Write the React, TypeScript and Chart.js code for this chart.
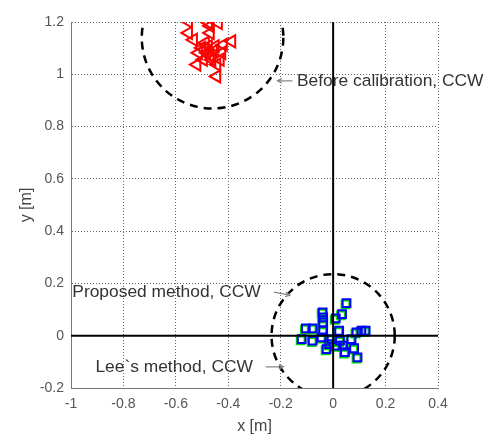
import React, { useEffect, useRef } from "react";
import { Chart, registerables } from "chart.js";

Chart.register(...registerables);

const xTicks = [-1, -0.8, -0.6, -0.4, -0.2, 0, 0.2, 0.4];
const yTicks = [-0.2, 0, 0.2, 0.4, 0.6, 0.8, 1, 1.2];

const beforeX = [-0.552, -0.476, -0.438, -0.469, -0.552, -0.469, -0.533, -0.488, -0.387, -0.501, -0.476, -0.45, -0.419, -0.514, -0.482, -0.457, -0.425, -0.495, -0.463, -0.431, -0.52, -0.444, -0.444, -0.47, -0.49];
const beforeY = [1.202, 1.198, 1.196, 1.185, 1.158, 1.158, 1.132, 1.12, 1.126, 1.101, 1.107, 1.107, 1.113, 1.082, 1.082, 1.088, 1.082, 1.056, 1.056, 1.056, 1.037, 1.037, 0.992, 1.07, 1.095];

const proposedX = [0.051, 0.034, -0.04, -0.038, -0.038, 0.01, -0.104, -0.078, -0.038, 0.023, -0.12, -0.078, -0.044, -0.006, 0.026, 0.07, 0.089, 0.108, 0.124, -0.025, 0.038, 0.045, 0.08, 0.093, 0.013, -0.015];
const proposedY = [0.125, 0.083, 0.089, 0.07, 0.051, 0.066, 0.028, 0.028, 0.019, 0.019, -0.013, -0.019, -0.006, -0.013, -0.019, -0.013, 0.013, 0.019, 0.019, -0.051, -0.038, -0.063, -0.048, -0.083, -0.038, -0.032];

const leeX = [0.047, 0.03, -0.044, -0.042, -0.042, 0.006, -0.108, -0.082, -0.042, 0.019, -0.124, -0.082, -0.048, -0.01, 0.022, 0.066, 0.085, 0.104, 0.12, -0.029, 0.034, 0.041, 0.076, 0.089, 0.009, -0.019];
const leeY = [0.12, 0.078, 0.084, 0.065, 0.046, 0.061, 0.023, 0.023, 0.014, 0.014, -0.018, -0.024, -0.011, -0.018, -0.024, -0.018, 0.008, 0.014, 0.014, -0.056, -0.043, -0.068, -0.053, -0.088, -0.043, -0.037];

const circleCenters = [[-0.46, 1.14], [0, 0]];
const circleRadii = [0.27, 0.235];

const noteTexts = ["Before calibration, CCW", "Proposed method, CCW", "Lee`s method, CCW"];
const noteTextPos = [[-0.138, 0.975], [-0.995, 0.167], [-0.907, -0.119]];
const noteArrowFrom = [[-0.155, 0.975], [-0.226, 0.167], [-0.257, -0.119]];
const noteArrowTo = [[-0.212, 0.975], [-0.165, 0.155], [-0.19, -0.119]];

const zip = (xs: number[], ys: number[]) => xs.map((x, i) => ({ x, y: ys[i] }));

const fmt = (v: number) => String(Number(v.toFixed(1)));

const overlayPlugin = {
  id: "overlay",
  beforeDatasetsDraw(chart: any) {
    const { ctx, chartArea, scales } = chart;
    const xs = scales.x, ys = scales.y;
    ctx.save();
    ctx.beginPath();
    ctx.rect(chartArea.left, chartArea.top, chartArea.right - chartArea.left, chartArea.bottom - chartArea.top);
    ctx.clip();
    ctx.strokeStyle = "#000";
    ctx.lineWidth = 2.5;
    ctx.setLineDash([8, 6]);
    circleCenters.forEach((c, i) => {
      const cx = xs.getPixelForValue(c[0]);
      const cy = ys.getPixelForValue(c[1]);
      const r = Math.abs(xs.getPixelForValue(c[0] + circleRadii[i]) - cx);
      ctx.beginPath();
      ctx.arc(cx, cy, r, 0, Math.PI * 2);
      ctx.stroke();
    });
    ctx.restore();
  },
  afterDatasetsDraw(chart: any) {
    const { ctx, scales } = chart;
    const xs = scales.x, ys = scales.y;
    ctx.save();
    ctx.font = '17.4px "Liberation Sans", Arial, sans-serif';
    ctx.fillStyle = "#333";
    ctx.textBaseline = "middle";
    ctx.textAlign = "left";
    noteTexts.forEach((t, i) => {
      ctx.fillText(t, xs.getPixelForValue(noteTextPos[i][0]), ys.getPixelForValue(noteTextPos[i][1]));
      const x1 = xs.getPixelForValue(noteArrowFrom[i][0]);
      const y1 = ys.getPixelForValue(noteArrowFrom[i][1]);
      const x2 = xs.getPixelForValue(noteArrowTo[i][0]);
      const y2 = ys.getPixelForValue(noteArrowTo[i][1]);
      ctx.strokeStyle = "#888";
      ctx.lineWidth = 1.3;
      ctx.setLineDash([]);
      ctx.beginPath();
      ctx.moveTo(x1, y1);
      ctx.lineTo(x2, y2);
      const a = Math.atan2(y2 - y1, x2 - x1);
      ctx.moveTo(x2 - 5 * Math.cos(a - 0.5), y2 - 5 * Math.sin(a - 0.5));
      ctx.lineTo(x2, y2);
      ctx.lineTo(x2 - 5 * Math.cos(a + 0.5), y2 - 5 * Math.sin(a + 0.5));
      ctx.stroke();
    });
    ctx.restore();
  },
};

export default function App() {
  const ref = useRef<HTMLCanvasElement>(null);
  useEffect(() => {
    if (!ref.current) return;
    const tickFont = { family: '"Liberation Sans", Arial, sans-serif', size: 14 };
    const chart = new Chart(ref.current, {
      type: "scatter",
      data: {
        datasets: [
          {
            label: "x0",
            data: [{ x: 0, y: -0.2 }, { x: 0, y: 1.2 }],
            showLine: true,
            borderColor: "#000",
            borderWidth: 2,
            pointRadius: 0,
            order: 0,
          },
          {
            label: "y0",
            data: [{ x: -1, y: 0 }, { x: 0.4, y: 0 }],
            showLine: true,
            borderColor: "#000",
            borderWidth: 2,
            pointRadius: 0,
            order: 0,
          },
          {
            label: "Proposed method, CCW",
            data: zip(proposedX, proposedY),
            pointStyle: "rect",
            pointRadius: 5.5,
            borderColor: "#0000ff",
            backgroundColor: "rgba(0,0,0,0)",
            borderWidth: 2,
            order: 1,
          },
          {
            label: "Lee`s method, CCW",
            data: zip(leeX, leeY),
            pointStyle: "rect",
            pointRadius: 5.5,
            borderColor: "#00dd00",
            backgroundColor: "rgba(0,0,0,0)",
            borderWidth: 2,
            order: 2,
          },
          {
            label: "Before calibration, CCW",
            data: zip(beforeX, beforeY),
            pointStyle: "triangle",
            rotation: -90,
            pointRadius: 7,
            borderColor: "#ff0000",
            backgroundColor: "rgba(0,0,0,0)",
            borderWidth: 2,
            order: 1,
          },
        ],
      },
      options: {
        animation: false,
        responsive: false,
        maintainAspectRatio: false,
        layout: { padding: { top: 22, right: 56, left: 0, bottom: 0 } },
        plugins: { legend: { display: false }, tooltip: { enabled: false } },
        scales: {
          x: {
            type: "linear",
            min: -1,
            max: 0.4,
            afterBuildTicks: (s: any) => { s.ticks = xTicks.map((v) => ({ value: v })); },
            afterFit: (s: any) => { s.height = 47; },
            ticks: { color: "#555", font: tickFont, padding: 8, callback: (v: any) => fmt(Number(v)), maxRotation: 0, autoSkip: false },
            grid: { color: "#666", drawTicks: false },
            border: { display: true, color: "#777", width: 1, dash: [1, 2] },
            title: { display: true, text: "x [m]", color: "#444", font: { ...tickFont, size: 16, lineHeight: 1 }, padding: 0 },
          },
          y: {
            type: "linear",
            min: -0.2,
            max: 1.2,
            afterBuildTicks: (s: any) => { s.ticks = yTicks.map((v) => ({ value: v })); },
            afterFit: (s: any) => { s.width = 71; },
            ticks: { color: "#555", font: tickFont, padding: 7, callback: (v: any) => fmt(Number(v)), autoSkip: false },
            grid: { color: "#666", drawTicks: false },
            border: { display: true, color: "#777", width: 1, dash: [1, 2] },
            title: { display: true, text: "y [m]", color: "#444", font: { ...tickFont, size: 16, lineHeight: 1 }, padding: { top: 19, bottom: 0 } },
          },
        },
      } as any,
      plugins: [overlayPlugin],
    });
    return () => chart.destroy();
  }, []);
  return (
    <div style={{ position: "absolute", left: 0, top: 0, width: 494, height: 435, background: "#fff" }}>
      <canvas ref={ref} width={494} height={435} style={{ width: 494, height: 435 }} />
    </div>
  );
}
